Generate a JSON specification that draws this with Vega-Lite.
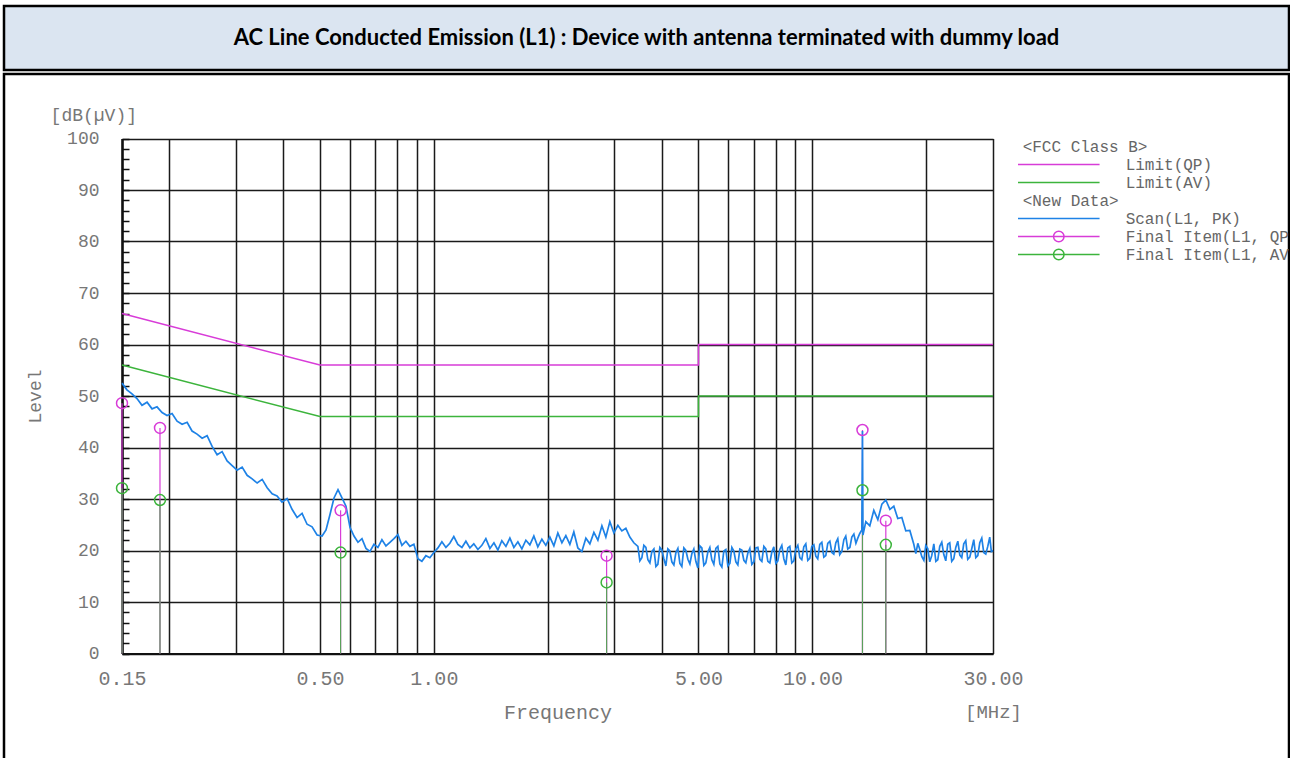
{
  "$schema": "https://vega.github.io/schema/vega-lite/v6.json",
  "background": "white",
  "padding": {"left": 2, "top": 4, "right": 0, "bottom": 0},
  "spacing": 0,
  "config": {"view": {"stroke": null}, "concat": {"spacing": 0}},
  "datasets": {
    "limits": [
      {"f": 0.15, "v": 66, "s": "QP", "k": 0}, {"f": 0.5, "v": 56, "s": "QP", "k": 1}, {"f": 5, "v": 56, "s": "QP", "k": 2}, {"f": 5, "v": 60, "s": "QP", "k": 3}, {"f": 30, "v": 60, "s": "QP", "k": 4},
      {"f": 0.15, "v": 56, "s": "AV", "k": 0}, {"f": 0.5, "v": 46, "s": "AV", "k": 1}, {"f": 5, "v": 46, "s": "AV", "k": 2}, {"f": 5, "v": 50, "s": "AV", "k": 3}, {"f": 30, "v": 50, "s": "AV", "k": 4}
    ],
    "final": [
      {"f": 0.15, "v": 48.6, "t": "QP"}, {"f": 0.15, "v": 32.1, "t": "AV"},
      {"f": 0.189, "v": 43.8, "t": "QP"}, {"f": 0.189, "v": 29.8, "t": "AV"},
      {"f": 0.567, "v": 27.8, "t": "QP"}, {"f": 0.567, "v": 19.6, "t": "AV"},
      {"f": 2.86, "v": 19.0, "t": "QP"}, {"f": 2.86, "v": 13.8, "t": "AV"},
      {"f": 13.56, "v": 43.4, "t": "QP"}, {"f": 13.56, "v": 31.7, "t": "AV"},
      {"f": 15.63, "v": 25.8, "t": "QP"}, {"f": 15.63, "v": 21.1, "t": "AV"}
    ],
    "scan": [
      {"f": 0.150, "v": 52.5}, {"f": 0.1546, "v": 51.2}, {"f": 0.1594, "v": 50.4}, {"f": 0.1643, "v": 49.5}, {"f": 0.1694, "v": 48.2},
      {"f": 0.1747, "v": 48.8}, {"f": 0.1801, "v": 47.5}, {"f": 0.1856, "v": 47.9}, {"f": 0.1914, "v": 46.8}, {"f": 0.1973, "v": 46.2},
      {"f": 0.2034, "v": 46.6}, {"f": 0.2097, "v": 45.1}, {"f": 0.2162, "v": 44.5}, {"f": 0.2229, "v": 44.9}, {"f": 0.2297, "v": 43.2},
      {"f": 0.2368, "v": 42.6}, {"f": 0.2442, "v": 41.8}, {"f": 0.2517, "v": 42.3}, {"f": 0.2595, "v": 40.2}, {"f": 0.2675, "v": 38.6},
      {"f": 0.2758, "v": 39.2}, {"f": 0.2843, "v": 37.4}, {"f": 0.2931, "v": 36.5}, {"f": 0.3022, "v": 35.6}, {"f": 0.3115, "v": 36.2},
      {"f": 0.3211, "v": 34.6}, {"f": 0.3311, "v": 33.9}, {"f": 0.3413, "v": 33.1}, {"f": 0.3519, "v": 33.8}, {"f": 0.3627, "v": 32.2},
      {"f": 0.3739, "v": 31.0}, {"f": 0.3852, "v": 30.6}, {"f": 0.3971, "v": 29.4}, {"f": 0.4094, "v": 30.1}, {"f": 0.4220, "v": 28.0},
      {"f": 0.4351, "v": 26.4}, {"f": 0.4485, "v": 27.2}, {"f": 0.4624, "v": 25.1}, {"f": 0.4767, "v": 24.6}, {"f": 0.4914, "v": 23.0},
      {"f": 0.5066, "v": 22.8}, {"f": 0.5189, "v": 24.0}, {"f": 0.5316, "v": 27.0}, {"f": 0.5447, "v": 30.2}, {"f": 0.5581, "v": 31.8},
      {"f": 0.5718, "v": 30.2}, {"f": 0.5859, "v": 28.6}, {"f": 0.6003, "v": 24.5}, {"f": 0.6151, "v": 22.8}, {"f": 0.6302, "v": 21.6},
      {"f": 0.6457, "v": 22.3}, {"f": 0.6616, "v": 20.4}, {"f": 0.6779, "v": 19.8}, {"f": 0.6945, "v": 21.2}, {"f": 0.7116, "v": 20.6},
      {"f": 0.7291, "v": 22.1}, {"f": 0.7471, "v": 20.9}, {"f": 0.7654, "v": 21.6}, {"f": 0.7843, "v": 22.3}, {"f": 0.8036, "v": 23.1},
      {"f": 0.8233, "v": 21.0}, {"f": 0.8436, "v": 21.8}, {"f": 0.8643, "v": 20.8}, {"f": 0.8856, "v": 21.2}, {"f": 0.9074, "v": 18.4},
      {"f": 0.9297, "v": 17.9}, {"f": 0.9526, "v": 19.0}, {"f": 0.976, "v": 18.6}, {"f": 1.000, "v": 19.6},
      {"f": 1.025, "v": 20.5}, {"f": 1.050, "v": 21.7}, {"f": 1.076, "v": 20.6}, {"f": 1.102, "v": 21.4}, {"f": 1.129, "v": 22.7},
      {"f": 1.157, "v": 21.2}, {"f": 1.186, "v": 20.6}, {"f": 1.215, "v": 21.8}, {"f": 1.245, "v": 20.5}, {"f": 1.275, "v": 21.3},
      {"f": 1.307, "v": 20.2}, {"f": 1.339, "v": 21.0}, {"f": 1.372, "v": 22.3}, {"f": 1.406, "v": 20.4}, {"f": 1.441, "v": 21.5},
      {"f": 1.476, "v": 20.1}, {"f": 1.512, "v": 21.9}, {"f": 1.550, "v": 20.8}, {"f": 1.588, "v": 22.4}, {"f": 1.627, "v": 20.6},
      {"f": 1.667, "v": 21.7}, {"f": 1.708, "v": 20.3}, {"f": 1.750, "v": 22.0}, {"f": 1.793, "v": 21.1}, {"f": 1.837, "v": 22.8},
      {"f": 1.882, "v": 20.7}, {"f": 1.929, "v": 22.2}, {"f": 1.976, "v": 21.0}, {"f": 2.025, "v": 22.6}, {"f": 2.075, "v": 20.9},
      {"f": 2.126, "v": 23.4}, {"f": 2.179, "v": 21.5}, {"f": 2.232, "v": 22.9}, {"f": 2.287, "v": 21.2}, {"f": 2.343, "v": 23.6},
      {"f": 2.401, "v": 20.5}, {"f": 2.460, "v": 19.8}, {"f": 2.521, "v": 22.4}, {"f": 2.583, "v": 21.3}, {"f": 2.647, "v": 23.5},
      {"f": 2.712, "v": 22.0}, {"f": 2.779, "v": 24.8}, {"f": 2.847, "v": 22.6}, {"f": 2.917, "v": 25.6}, {"f": 2.989, "v": 23.4},
      {"f": 3.063, "v": 24.9}, {"f": 3.138, "v": 23.8}, {"f": 3.215, "v": 24.3}, {"f": 3.294, "v": 22.6}, {"f": 3.375, "v": 21.5},
      {"f": 3.459, "v": 20.8}, {"f": 3.501, "v": 18.0}, {"f": 3.544, "v": 18.6}, {"f": 3.587, "v": 21.0}, {"f": 3.632, "v": 20.6},
      {"f": 3.676, "v": 18.2}, {"f": 3.721, "v": 17.6}, {"f": 3.766, "v": 19.8}, {"f": 3.813, "v": 20.3}, {"f": 3.860, "v": 16.9},
      {"f": 3.906, "v": 17.3}, {"f": 3.954, "v": 20.6}, {"f": 4.002, "v": 20.1}, {"f": 4.051, "v": 18.4}, {"f": 4.101, "v": 17.0},
      {"f": 4.151, "v": 20.3}, {"f": 4.202, "v": 19.9}, {"f": 4.253, "v": 17.8}, {"f": 4.306, "v": 17.2}, {"f": 4.359, "v": 19.6},
      {"f": 4.412, "v": 20.4}, {"f": 4.466, "v": 17.5}, {"f": 4.520, "v": 16.9}, {"f": 4.575, "v": 20.5}, {"f": 4.632, "v": 20.0},
      {"f": 4.689, "v": 18.3}, {"f": 4.746, "v": 17.4}, {"f": 4.804, "v": 19.4}, {"f": 4.862, "v": 20.3}, {"f": 4.921, "v": 17.9},
      {"f": 4.982, "v": 16.6}, {"f": 5.043, "v": 20.9}, {"f": 5.105, "v": 20.5}, {"f": 5.167, "v": 17.1}, {"f": 5.230, "v": 17.6},
      {"f": 5.294, "v": 19.7}, {"f": 5.359, "v": 20.6}, {"f": 5.424, "v": 18.2}, {"f": 5.491, "v": 17.3}, {"f": 5.558, "v": 20.4},
      {"f": 5.627, "v": 20.8}, {"f": 5.696, "v": 17.4}, {"f": 5.765, "v": 16.8}, {"f": 5.835, "v": 19.9}, {"f": 5.907, "v": 20.2},
      {"f": 5.979, "v": 17.0}, {"f": 6.053, "v": 17.5}, {"f": 6.127, "v": 20.6}, {"f": 6.202, "v": 19.9}, {"f": 6.278, "v": 17.8},
      {"f": 6.354, "v": 17.2}, {"f": 6.432, "v": 20.3}, {"f": 6.511, "v": 20.1}, {"f": 6.590, "v": 18.1}, {"f": 6.671, "v": 17.6},
      {"f": 6.752, "v": 19.5}, {"f": 6.835, "v": 20.4}, {"f": 6.918, "v": 17.3}, {"f": 7.004, "v": 17.8}, {"f": 7.089, "v": 20.5},
      {"f": 7.176, "v": 20.6}, {"f": 7.264, "v": 18.3}, {"f": 7.353, "v": 17.9}, {"f": 7.443, "v": 20.8}, {"f": 7.534, "v": 20.3},
      {"f": 7.626, "v": 17.9}, {"f": 7.719, "v": 17.6}, {"f": 7.813, "v": 19.7}, {"f": 7.909, "v": 20.7}, {"f": 8.006, "v": 17.5},
      {"f": 8.104, "v": 18.0}, {"f": 8.203, "v": 20.2}, {"f": 8.303, "v": 21.0}, {"f": 8.404, "v": 18.4}, {"f": 8.507, "v": 17.2},
      {"f": 8.611, "v": 20.5}, {"f": 8.717, "v": 20.8}, {"f": 8.823, "v": 17.6}, {"f": 8.931, "v": 18.0}, {"f": 9.040, "v": 20.3},
      {"f": 9.151, "v": 21.0}, {"f": 9.263, "v": 18.6}, {"f": 9.376, "v": 18.2}, {"f": 9.490, "v": 20.7}, {"f": 9.607, "v": 21.3},
      {"f": 9.724, "v": 18.1}, {"f": 9.843, "v": 18.5}, {"f": 9.963, "v": 20.8}, {"f": 10.09, "v": 21.1}, {"f": 10.21, "v": 18.9},
      {"f": 10.33, "v": 18.4}, {"f": 10.46, "v": 21.2}, {"f": 10.59, "v": 21.6}, {"f": 10.72, "v": 18.7}, {"f": 10.85, "v": 19.0},
      {"f": 10.98, "v": 21.4}, {"f": 11.12, "v": 21.8}, {"f": 11.26, "v": 19.6}, {"f": 11.39, "v": 19.3}, {"f": 11.53, "v": 21.5},
      {"f": 11.67, "v": 22.3}, {"f": 11.81, "v": 19.2}, {"f": 11.96, "v": 19.8}, {"f": 12.11, "v": 22.1}, {"f": 12.25, "v": 22.8},
      {"f": 12.40, "v": 20.3}, {"f": 12.56, "v": 20.6}, {"f": 12.71, "v": 22.6}, {"f": 12.87, "v": 23.2}, {"f": 13.03, "v": 21.4},
      {"f": 13.18, "v": 22.4}, {"f": 13.34, "v": 23.3}, {"f": 13.51, "v": 24.0}, {"f": 13.56, "v": 43.2}, {"f": 13.6, "v": 23.0},
      {"f": 13.84, "v": 25.6}, {"f": 14.18, "v": 24.8}, {"f": 14.53, "v": 27.8}, {"f": 14.89, "v": 26.0}, {"f": 15.26, "v": 29.0},
      {"f": 15.63, "v": 29.8}, {"f": 16.02, "v": 28.0}, {"f": 16.41, "v": 28.6}, {"f": 16.81, "v": 26.2}, {"f": 17.23, "v": 26.4},
      {"f": 17.65, "v": 23.8}, {"f": 18.09, "v": 23.9}, {"f": 18.53, "v": 21.2}, {"f": 18.76, "v": 19.4}, {"f": 18.99, "v": 21.4},
      {"f": 19.22, "v": 20.2}, {"f": 19.46, "v": 18.8}, {"f": 19.70, "v": 18.1}, {"f": 19.93, "v": 21.0}, {"f": 20.17, "v": 20.4},
      {"f": 20.42, "v": 17.8}, {"f": 20.67, "v": 19.0}, {"f": 20.93, "v": 21.3}, {"f": 21.19, "v": 17.9}, {"f": 21.44, "v": 18.2},
      {"f": 21.70, "v": 20.8}, {"f": 21.97, "v": 21.6}, {"f": 22.24, "v": 19.2}, {"f": 22.51, "v": 18.0}, {"f": 22.78, "v": 21.2},
      {"f": 23.06, "v": 21.5}, {"f": 23.34, "v": 17.9}, {"f": 23.63, "v": 18.4}, {"f": 23.92, "v": 20.6}, {"f": 24.22, "v": 21.8},
      {"f": 24.52, "v": 19.1}, {"f": 24.81, "v": 18.6}, {"f": 25.11, "v": 21.3}, {"f": 25.42, "v": 21.9}, {"f": 25.73, "v": 18.3},
      {"f": 26.05, "v": 18.7}, {"f": 26.37, "v": 20.4}, {"f": 26.69, "v": 22.1}, {"f": 27.02, "v": 18.6}, {"f": 27.35, "v": 19.0},
      {"f": 27.68, "v": 21.5}, {"f": 28.02, "v": 22.4}, {"f": 28.36, "v": 19.6}, {"f": 28.71, "v": 19.3}, {"f": 29.06, "v": 20.8},
      {"f": 29.41, "v": 22.6}, {"f": 29.70, "v": 19.8}, {"f": 30.0, "v": 20.0}
    ],
    "legend": [
      {"r": 0, "t": "<FCC Class B>", "k": "head"},
      {"r": 1, "t": "Limit(QP)", "k": "line", "c": "QP"},
      {"r": 2, "t": "Limit(AV)", "k": "line", "c": "AV"},
      {"r": 3, "t": "<New Data>", "k": "head"},
      {"r": 4, "t": "Scan(L1, PK)", "k": "line", "c": "PK"},
      {"r": 5, "t": "Final Item(L1, QP)", "k": "mark", "c": "QP"},
      {"r": 6, "t": "Final Item(L1, AV)", "k": "mark", "c": "AV"}
    ]
  },
  "vconcat": [
    {
      "width": 1285,
      "height": 64,
      "view": {"fill": "#dbe5f1", "stroke": "black", "strokeWidth": 2.5},
      "data": {"values": [{"t": "AC Line Conducted Emission (L1) : Device with antenna terminated with dummy load"}]},
      "mark": {"type": "text", "font": "Lato", "fontWeight": "bold", "fontSize": 22, "color": "black", "baseline": "middle", "align": "center"},
      "encoding": {"text": {"field": "t"}}
    },
    {
      "width": 1285,
      "height": 690,
      "view": {"stroke": "black", "strokeWidth": 2.5},
      "resolve": {"scale": {"x": "independent", "y": "independent"}},
      "layer": [
        {
          "encoding": {
            "x": {
              "field": "f", "type": "quantitative",
              "scale": {"type": "log", "domain": [0.15, 30], "range": [118, 989], "nice": false},
              "axis": {
                "orient": "top",
                "values": [0.15, 0.2, 0.3, 0.4, 0.5, 0.6, 0.7, 0.8, 0.9, 1, 2, 3, 4, 5, 6, 7, 8, 9, 10, 20, 30],
                "grid": true, "gridColor": "#1a1a1a", "gridWidth": 1.5,
                "labels": false, "ticks": false, "domain": false, "title": null
              }
            },
            "y": {
              "field": "v", "type": "quantitative",
              "scale": {"domain": [0, 100], "range": [579.5, 64.5], "nice": false, "zero": false},
              "axis": {
                "orient": "left",
                "values": [0, 2, 4, 6, 8, 10, 12, 14, 16, 18, 20, 22, 24, 26, 28, 30, 32, 34, 36, 38, 40, 42, 44, 46, 48, 50, 52, 54, 56, 58, 60, 62, 64, 66, 68, 70, 72, 74, 76, 78, 80, 82, 84, 86, 88, 90, 92, 94, 96, 98, 100],
                "labelExpr": "datum.value % 10 === 0 ? datum.label : ''",
                "offset": -118,
                "ticks": true, "tickSize": -7, "tickColor": "#111", "tickWidth": 1.5,
                "grid": true, "gridColor": "#1a1a1a", "gridWidth": 1.5,
                "gridOpacity": {"condition": {"test": "datum.value % 10 === 0", "value": 1}, "value": 0},
                "domainColor": "#111", "domainWidth": 2.5,
                "labelFont": "Liberation Mono", "labelFontSize": 18, "labelColor": "#777",
                "labelPadding": 30, "labelOverlap": false, "labelBound": false,
                "title": "Level", "titleFont": "Liberation Mono", "titleFontSize": 18, "titleFontWeight": "normal", "titleColor": "#777", "titlePadding": 22
              }
            }
          },
          "layer": [
            {
              "data": {"name": "limits"},
              "transform": [{"filter": "datum.s === 'QP'"}],
              "mark": {"type": "line", "color": "#d83cd8", "strokeWidth": 1.5},
              "encoding": {"order": {"field": "k", "type": "quantitative"}}
            },
            {
              "data": {"name": "final"},
              "transform": [{"filter": "datum.t === 'QP'"}],
              "mark": {"type": "rule", "color": "#d83cd8", "strokeWidth": 1.2},
              "encoding": {"y2": {"datum": 0}}
            },
            {
              "data": {"name": "final"},
              "transform": [{"filter": "datum.t === 'AV'"}],
              "mark": {"type": "rule", "color": "#5aa05a", "strokeWidth": 1.2},
              "encoding": {"y2": {"datum": 0}}
            },
            {
              "data": {"name": "scan"},
              "mark": {"type": "line", "color": "#1e82e6", "strokeWidth": 1.7},
              "encoding": {}
            },
            {
              "data": {"name": "final"},
              "transform": [{"filter": "datum.t === 'QP'"}],
              "mark": {"type": "point", "shape": "circle", "filled": false, "size": 120, "strokeWidth": 1.5, "color": "#d83cd8", "opacity": 1}
            },
            {
              "data": {"name": "final"},
              "transform": [{"filter": "datum.t === 'AV'"}],
              "mark": {"type": "point", "shape": "circle", "filled": false, "size": 120, "strokeWidth": 1.5, "color": "#3cb43c", "opacity": 1}
            }
          ]
        },
        {
          "data": {"name": "limits"},
          "transform": [{"filter": "datum.s === 'AV'"}],
          "mark": {"type": "line", "color": "#3cb43c", "strokeWidth": 1.5},
          "encoding": {
            "x": {
              "field": "f", "type": "quantitative",
              "scale": {"type": "log", "domain": [0.15, 30], "range": [118, 989], "nice": false},
              "axis": {
                "orient": "bottom",
                "values": [0.15, 0.5, 1, 5, 10, 30],
                "format": ".2f",
                "offset": -110.5,
                "ticks": false,
                "grid": false,
                "domain": true, "domainColor": "#111", "domainWidth": 2,
                "labelFont": "Liberation Mono", "labelFontSize": 20, "labelColor": "#777",
                "labelPadding": 15, "labelOverlap": false, "labelFlush": false, "labelBound": false,
                "title": "Frequency", "titleFont": "Liberation Mono", "titleFontSize": 20, "titleFontWeight": "normal", "titleColor": "#777", "titlePadding": 14
              }
            },
            "y": {"field": "v", "type": "quantitative", "scale": {"domain": [0, 100], "range": [579.5, 64.5], "nice": false, "zero": false}, "axis": null},
            "order": {"field": "k", "type": "quantitative"}
          }
        },
        {
          "data": {"values": [{"t": "[dB(µV)]"}]},
          "mark": {"type": "text", "font": "Liberation Mono", "fontSize": 18, "color": "#777", "align": "right", "baseline": "middle", "dx": 15},
          "encoding": {
            "x": {"datum": 0.15, "type": "quantitative", "scale": {"type": "log", "domain": [0.15, 30], "range": [118, 989], "nice": false}, "axis": null},
            "y": {"datum": 104.3, "type": "quantitative", "scale": {"domain": [0, 100], "range": [579.5, 64.5], "nice": false, "zero": false}, "axis": null},
            "text": {"field": "t"}
          }
        },
        {
          "data": {"values": [{"t": "[MHz]"}]},
          "mark": {"type": "text", "font": "Liberation Mono", "fontSize": 19, "color": "#777", "align": "right", "baseline": "middle", "dx": 29},
          "encoding": {
            "x": {"datum": 30, "type": "quantitative", "scale": {"type": "log", "domain": [0.15, 30], "range": [118, 989], "nice": false}, "axis": null},
            "y": {"datum": -11.3, "type": "quantitative", "scale": {"domain": [0, 100], "range": [579.5, 64.5], "nice": false, "zero": false}, "axis": null},
            "text": {"field": "t"}
          }
        },
        {
          "data": {"name": "legend"},
          "layer": [
            {
              "transform": [{"filter": "datum.k !== 'head'"}],
              "mark": {"type": "rule", "strokeWidth": 1.5},
              "encoding": {
                "x": {"datum": 0, "type": "quantitative", "scale": {"domain": [0, 1.5], "range": [1014, 1144.5]}, "axis": null},
                "x2": {"datum": 1},
                "y": {"field": "r", "type": "quantitative", "scale": {"domain": [0, 6], "range": [72.5, 180.5]}, "axis": null},
                "color": {"field": "c", "type": "nominal", "scale": {"domain": ["QP", "AV", "PK"], "range": ["#d83cd8", "#3cb43c", "#1e82e6"]}, "legend": null}
              }
            },
            {
              "transform": [{"filter": "datum.k === 'mark'"}],
              "mark": {"type": "point", "shape": "circle", "filled": false, "size": 110, "strokeWidth": 1.5, "opacity": 1},
              "encoding": {
                "x": {"datum": 0.5, "type": "quantitative"},
                "y": {"field": "r", "type": "quantitative"},
                "color": {"field": "c", "type": "nominal", "legend": null}
              }
            },
            {
              "transform": [{"filter": "datum.k === 'head'"}],
              "mark": {"type": "text", "font": "Liberation Mono", "fontSize": 16, "color": "#666", "align": "left", "baseline": "middle"},
              "encoding": {
                "x": {"datum": 0.057, "type": "quantitative"},
                "y": {"field": "r", "type": "quantitative"},
                "text": {"field": "t"}
              }
            },
            {
              "transform": [{"filter": "datum.k !== 'head'"}],
              "mark": {"type": "text", "font": "Liberation Mono", "fontSize": 16, "color": "#666", "align": "left", "baseline": "middle", "clip": true},
              "encoding": {
                "x": {"datum": 1.32, "type": "quantitative"},
                "y": {"field": "r", "type": "quantitative"},
                "text": {"field": "t"}
              }
            }
          ]
        }
      ]
    }
  ]
}
